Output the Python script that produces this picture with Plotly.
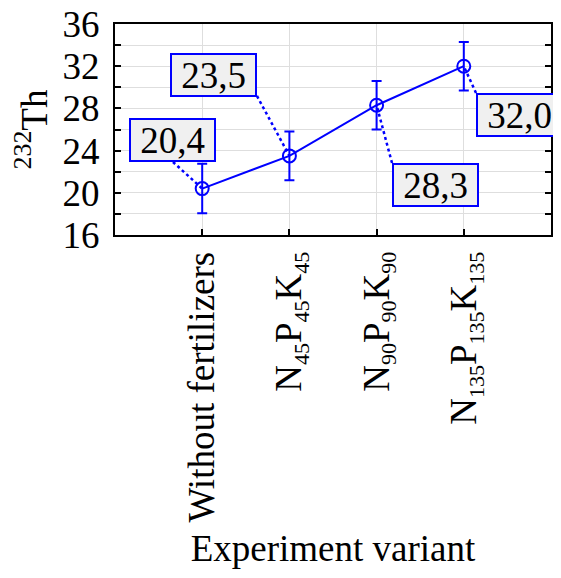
import re
import plotly.graph_objects as go

# ---- data ----
categories = [
    "Without fertilizers",
    "N45P45K45",
    "N90P90K90",
    "N135P135K135",
]
positions = [1, 2, 3, 4]
means = [20.4, 23.5, 28.3, 32.0]
errors = [2.35, 2.3, 2.3, 2.3]
label_texts = ["20,4", "23,5", "28,3", "32,0"]
y_ticks = [16, 20, 24, 28, 32, 36]

# label box centers and leader-line starts (data coords; layout only)
label_pos = [(0.654, 25.0), (1.135, 31.2), (3.675, 20.74), (4.64, 27.4)]
leader_start = [(0.665, 22.92), (1.628, 29.18), (3.177, 22.82), (4.14, 29.46)]

BLUE = "rgb(0,0,255)"
FONT = "Liberation Serif"


def fmt_cat(c):
    parts = re.findall(r"([A-Z])(\d+)", c)
    if parts and c.startswith("N"):
        s = ""
        for letter, num in parts:
            s += f"{letter}<sub><span style='font-size:22px'>{num}</span></sub>"
        return s
    return c


fig = go.Figure()
fig.add_trace(go.Scatter(
    x=positions, y=means, mode="lines+markers",
    line=dict(color=BLUE, width=2),
    marker=dict(symbol="circle-open", size=13, color=BLUE, line=dict(width=2, color=BLUE)),
    error_y=dict(type="data", array=errors, color=BLUE, thickness=2, width=5),
    showlegend=False, hoverinfo="skip",
))

shapes = []
for (sx, sy), px, py in zip(leader_start, positions, means):
    shapes.append(dict(type="line", xref="x", yref="y", x0=sx, y0=sy, x1=px, y1=py,
                       line=dict(color=BLUE, width=2.5, dash="dot"), layer="above"))

annotations = []
for (lx, ly), t in zip(label_pos, label_texts):
    annotations.append(dict(
        x=lx, y=ly, xref="x", yref="y", text=t, showarrow=False,
        font=dict(family=FONT, size=37, color="black"),
        bgcolor="#f0f0f0", bordercolor=BLUE, borderwidth=2, borderpad=0,
        width=83, height=40, xanchor="center", yanchor="middle",
    ))

fig.update_layout(
    width=553, height=570,
    margin=dict(l=107, r=10, t=16, b=343),
    paper_bgcolor="white", plot_bgcolor="white",
    font=dict(family=FONT, size=36, color="black"),
    shapes=shapes, annotations=annotations,
)

fig.update_xaxes(
    range=[0, 5], tickvals=positions, ticktext=[fmt_cat(c) for c in categories],
    tickangle=-90, ticks="inside", ticklen=6, tickwidth=2, tickcolor="black",
    showline=True, linecolor="black", linewidth=2, mirror=True,
    showgrid=True, gridcolor="#dedede", gridwidth=1,
    zeroline=False, tickfont=dict(family=FONT, size=37),
    title=dict(text="Experiment variant", font=dict(family=FONT, size=37), standoff=14),
    automargin=False, ticklabelstandoff=0, ticklabeloverflow="allow",
)
fig.update_yaxes(
    range=[16, 36], tickvals=y_ticks, ticks="inside", ticklen=6, tickwidth=2,
    tickcolor="black",
    minor=dict(dtick=2, ticks="inside", ticklen=6, tickwidth=2, tickcolor="black",
               showgrid=True, gridcolor="#dedede", gridwidth=1),
    showline=True, linecolor="black", linewidth=2, mirror="ticks",
    showgrid=True, gridcolor="#dedede", gridwidth=1, zeroline=False,
    tickfont=dict(family=FONT, size=37),
    title=dict(text="<sup>232</sup>Th", font=dict(family=FONT, size=37), standoff=30),
    automargin=False, ticklabelstandoff=6, ticklabeloverflow="allow",
)

fig.write_html("out.html")
